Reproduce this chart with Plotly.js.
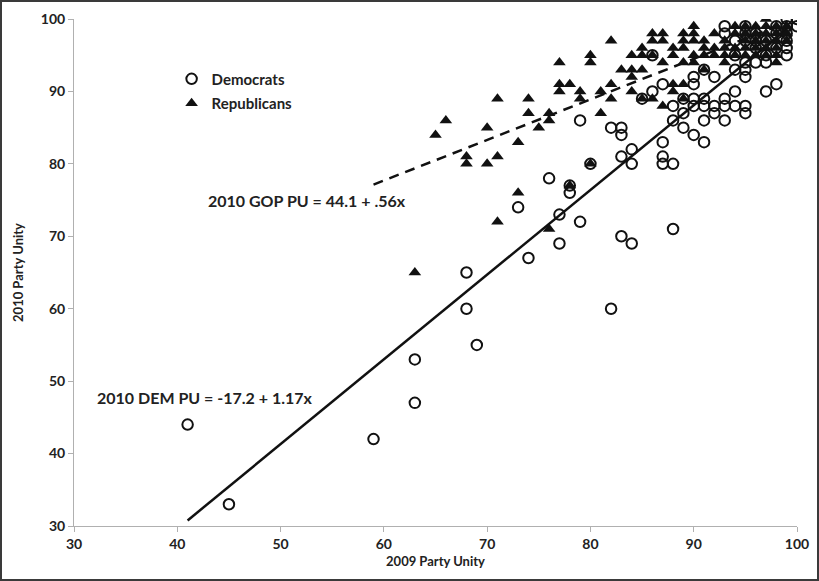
<!DOCTYPE html>
<html>
<head>
<meta charset="utf-8">
<script src="https://cdn.plot.ly/plotly-3.0.1.min.js"></script>
<style>
  html, body { margin: 0; padding: 0; background: #fff; }
  #wrap { position: relative; width: 819px; height: 581px; }
  #chart { position: absolute; left: 0; top: 0; width: 819px; height: 581px; }
  #frame { position: absolute; left: 0; top: 0; width: 819px; height: 581px; box-sizing: border-box; border: 2px solid #3a3a3a; pointer-events: none; }
</style>
</head>
<body>
<div id="wrap"><div id="chart"></div><div id="frame"></div></div>
<script>
// Democrats: 2009 party unity (x) and 2010 party unity (y)
const demX = [41,45,59,63,63,68,68,69,73,74,76,77,77,78,78,79,79,80,82,82,83,83,83,83,84,84,84,85,86,86,87,87,87,87,88,88,88,88,89,89,89,90,90,90,90,90,91,91,91,91,91,92,92,92,93,93,93,93,93,94,94,94,94,94,95,95,95,95,95,95,95,95,96,96,96,96,97,97,97,97,98,98,98,98,99,99,99,99,99,99,100,100];
const demY = [44,33,42,53,47,65,60,55,74,67,78,73,69,77,76,72,86,80,85,60,85,84,81,70,82,80,69,89,90,95,91,83,81,80,88,86,80,71,89,87,85,92,91,89,88,84,93,89,88,86,83,92,88,87,99,98,89,88,86,97,95,93,90,88,99,98,97,94,93,92,88,87,98,97,96,94,97,95,94,90,99,98,96,91,100,99,98,97,96,95,100,99];

// Republicans
const repX = [63,65,66,68,68,70,70,71,71,71,73,73,74,74,75,76,76,76,77,77,77,78,78,79,79,80,80,80,81,81,82,82,82,83,84,84,84,84,85,85,85,85,86,86,86,86,87,87,87,87,88,88,88,88,89,89,89,89,89,89,90,90,90,90,90,91,91,91,91,92,92,92,93,93,93,93,94,94,94,94,95,95,95,95,95,96,96,96,96,96,97,97,97,97,97,97,98,98,98,98,98,98,99,99,99];
const repY = [65,84,86,81,80,85,80,89,81,72,83,76,89,87,85,87,86,71,94,91,90,91,77,90,89,95,94,80,90,87,97,91,89,93,95,93,92,90,96,95,93,89,98,97,95,89,98,97,94,88,96,95,91,90,98,97,96,94,91,89,99,98,97,95,94,97,96,95,93,98,96,95,97,96,95,94,99,98,96,95,99,98,97,96,95,99,98,97,96,95,100,99,98,97,96,95,99,98,97,96,95,94,99,98,97];

// Fitted lines
const demFitX = [41, 99];
const demFitY = demFitX.map(x => -17.2 + 1.17 * x);
const gopFitX = [59, 99];
const gopFitY = gopFitX.map(x => 44.1 + 0.56 * x);

const xTicks = [30,40,50,60,70,80,90,100];
const yTicks = [30,40,50,60,70,80,90,100];

const FONT = 'Lato, "Open Sans", sans-serif';

const traces = [
  { x: demFitX, y: demFitY, mode: 'lines', line: {color: '#111', width: 2.5}, showlegend: false, hoverinfo: 'skip' },
  { x: gopFitX, y: gopFitY, mode: 'lines', line: {color: '#111', width: 2.5, dash: '10px,7px'}, showlegend: false, hoverinfo: 'skip' },
  { x: demX, y: demY, mode: 'markers', name: 'Democrats', legendgroup: 'd',
    marker: {symbol: 'circle-open', size: 10.5, color: '#111', line: {color: '#111', width: 2}} },
  { x: repX, y: repY, mode: 'markers', name: 'Republicans', legendgroup: 'r',
    marker: {symbol: 'triangle-up', size: 11, color: '#111', line: {color: '#111', width: 0}} }
];

const axisCommon = {
  showgrid: false, zeroline: false, showline: true, linecolor: '#b0b0b0', linewidth: 1,
  ticks: 'outside', ticklen: 5, tickcolor: '#b0b0b0',
  tickfont: {family: FONT, size: 14, color: '#222', weight: 'bold'}
};

const layout = {
  width: 819, height: 581,
  margin: {l: 74, r: 22, t: 19, b: 55},
  paper_bgcolor: '#fff', plot_bgcolor: '#fff',
  font: {family: FONT, color: '#222'},
  xaxis: Object.assign({}, axisCommon, {
    range: [30, 100], tickvals: xTicks, ticktext: xTicks.map(String),
    title: {text: '2009 Party Unity', font: {family: FONT, size: 13, color: '#222', weight: 'bold'}, standoff: 6}
  }),
  yaxis: Object.assign({}, axisCommon, {
    range: [30, 100], tickvals: yTicks, ticktext: yTicks.map(String),
    title: {text: '2010 Party Unity', font: {family: FONT, size: 13, color: '#222', weight: 'bold'}, standoff: 14}
  }),
  showlegend: true,
  legend: {
    x: 0.135, y: 0.914, xanchor: 'left', yanchor: 'top',
    traceorder: 'grouped',
    bgcolor: 'rgba(0,0,0,0)', borderwidth: 0,
    font: {family: FONT, size: 15, color: '#222', weight: 'bold'},
    itemwidth: 30, tracegroupgap: 2
  },
  annotations: [
    { x: 52.6, y: 75.0, xref: 'x', yref: 'y', text: '2010 GOP PU = 44.1 + .56x', showarrow: false,
      font: {family: FONT, size: 16, color: '#222', weight: 'bold'} },
    { x: 42.7, y: 47.8, xref: 'x', yref: 'y', text: '2010 DEM PU = -17.2 + 1.17x', showarrow: false,
      font: {family: FONT, size: 16, color: '#222', weight: 'bold'} }
  ]
};

Plotly.newPlot('chart', traces, layout, {displayModeBar: false, staticPlot: true});
</script>
</body>
</html>
